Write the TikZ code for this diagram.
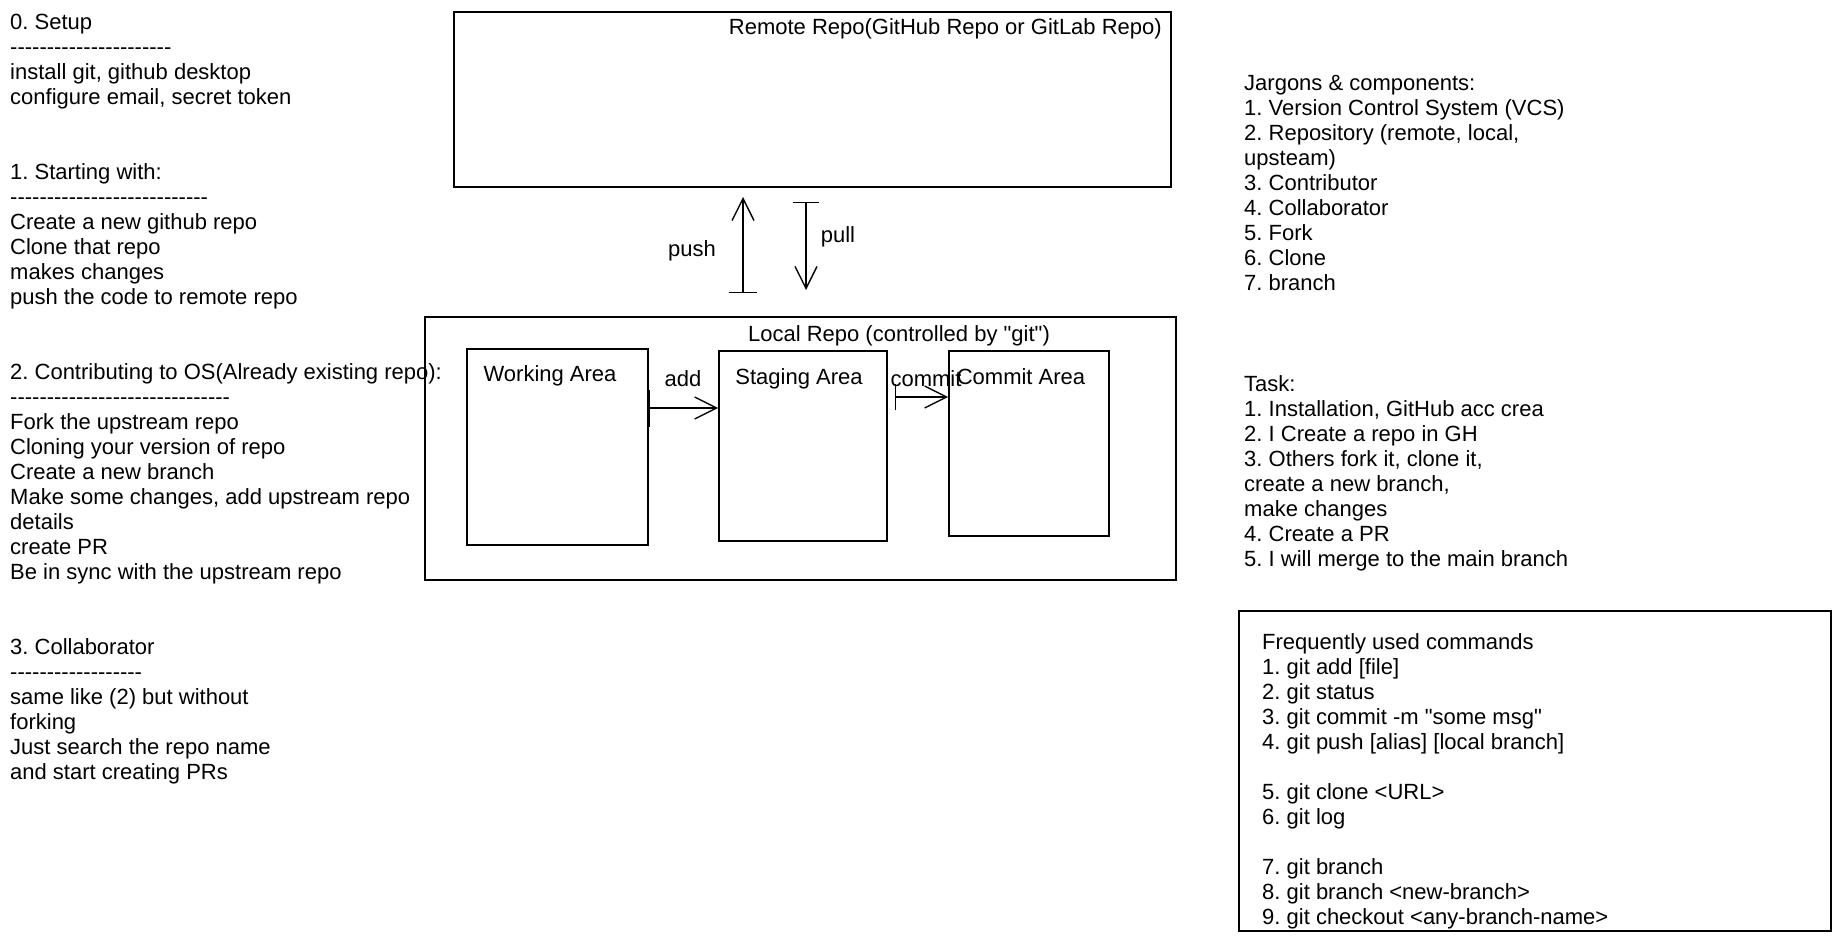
\documentclass[tikz,border=0pt]{standalone}
\usepackage{fontspec}
\setmainfont{Liberation Sans}[Ligatures=TeXOff]
\usetikzlibrary{arrows.meta}
\begin{document}
\frenchspacing
\begin{tikzpicture}[x=1pt,y=-1pt,
  txt/.style={font=\fontsize{22}{25}\selectfont, inner sep=0pt, align=left, anchor=north west, text=black},
  lbl/.style={font=\fontsize{22}{25}\selectfont, inner sep=0pt, anchor=base, text=black},
  box/.style={draw=black, line width=1.6pt, inner sep=0pt, rectangle},
  barconn/.style={draw=black, line width=1.4pt, {Bar[width=#1]}-{Straight Barb[length=22pt,width=22pt]}},
]
\useasboundingbox (0,0) rectangle (1840,940);

% left column
\node[txt] (s0) at (10,13.5) {0. Setup\\----------------------\\install git, github desktop\\configure email, secret token};
\node[txt] (s1) at (10,163.5) {1. Starting with:\\---------------------------\\Create a new github repo\\Clone that repo\\makes changes\\push the code to remote repo};
\node[txt] (s2) at (10,363.5) {2. Contributing to OS(Already existing repo):\\------------------------------\\Fork the upstream repo\\Cloning your version of repo\\Create a new branch\\Make some changes, add upstream repo\\details\\create PR\\Be in sync with the upstream repo};
\node[txt] (s3) at (10,638.5) {3. Collaborator\\------------------\\same like (2) but without\\forking\\Just search the repo name\\and start creating PRs};

% remote repo
\node[box, minimum width=717pt, minimum height=175pt] (remote) at (812.5,99.5) {};
\node[lbl, anchor=base east] (remotelbl) at (1162,34.5) {Remote Repo(GitHub Repo or GitLab Repo)};

% local repo
\node[box, minimum width=751pt, minimum height=263pt] (local) at (800.5,448.5) {};
\node[lbl] (locallbl) at (899,341.5) {Local Repo (controlled by "git")};
\node[box, minimum width=181pt, minimum height=196pt] (working) at (557.5,447) {};
\node[box, minimum width=168pt, minimum height=190pt] (staging) at (803,446) {};
\node[box, minimum width=160pt, minimum height=185pt] (commitbox) at (1029,443.5) {};
\node[lbl] (workinglbl) at (550,381.5) {Working Area};
\node[lbl] (staginglbl) at (799,384.5) {Staging Area};
\node[lbl] (commitlbl) at (1021,384.5) {Commit Area};

% push / pull
\coordinate (pushS) at (743,293);
\coordinate (pushE) at (743,197);
\coordinate (pullS) at (806,202);
\coordinate (pullE) at (806,290);
\draw[barconn=28pt] (pushS) -- (pushE);
\draw[barconn=26pt] (pullS) -- (pullE);
\node[lbl] (pushlbl) at (692,256.5) {push};
\node[lbl] (pulllbl) at (838,242.5) {pull};

% add / commit
\coordinate (addY) at (0,408);
\coordinate (comS) at (895,397);
\draw[barconn=37pt] (working.east |- addY) -- (staging.west |- addY);
\draw[barconn=26pt] (comS) -- (commitbox.west |- comS);
\node[lbl] (addlbl) at (683,386.5) {add};
\node[lbl] (comlbl) at (926,386.5) {commit};

% right column
\node[txt] (jargons) at (1244,75.5) {Jargons \& components:\\1. Version Control System (VCS)\\2. Repository (remote, local,\\upsteam)\\3. Contributor\\4. Collaborator\\5. Fork\\6. Clone\\7. branch};
\node[txt] (task) at (1244,375.5) {Task:\\1. Installation, GitHub acc crea\\2. I Create a repo in GH\\3. Others fork it, clone it,\\create a new branch,\\make changes\\4. Create a PR\\5. I will merge to the main branch};

\node[box, minimum width=592pt, minimum height=320pt] (cmds) at (1535,771) {};
\node[txt] (cmdtxt) at (1262,633.5) {Frequently used commands\\1. git add [file]\\2. git status\\3. git commit -m "some msg"\\4. git push [alias] [local branch]\\\mbox{}\\5. git clone <URL>\\6. git log\\\mbox{}\\7. git branch\\8. git branch <new-branch>\\9. git checkout <any-branch-name>};
\end{tikzpicture}
\end{document}
